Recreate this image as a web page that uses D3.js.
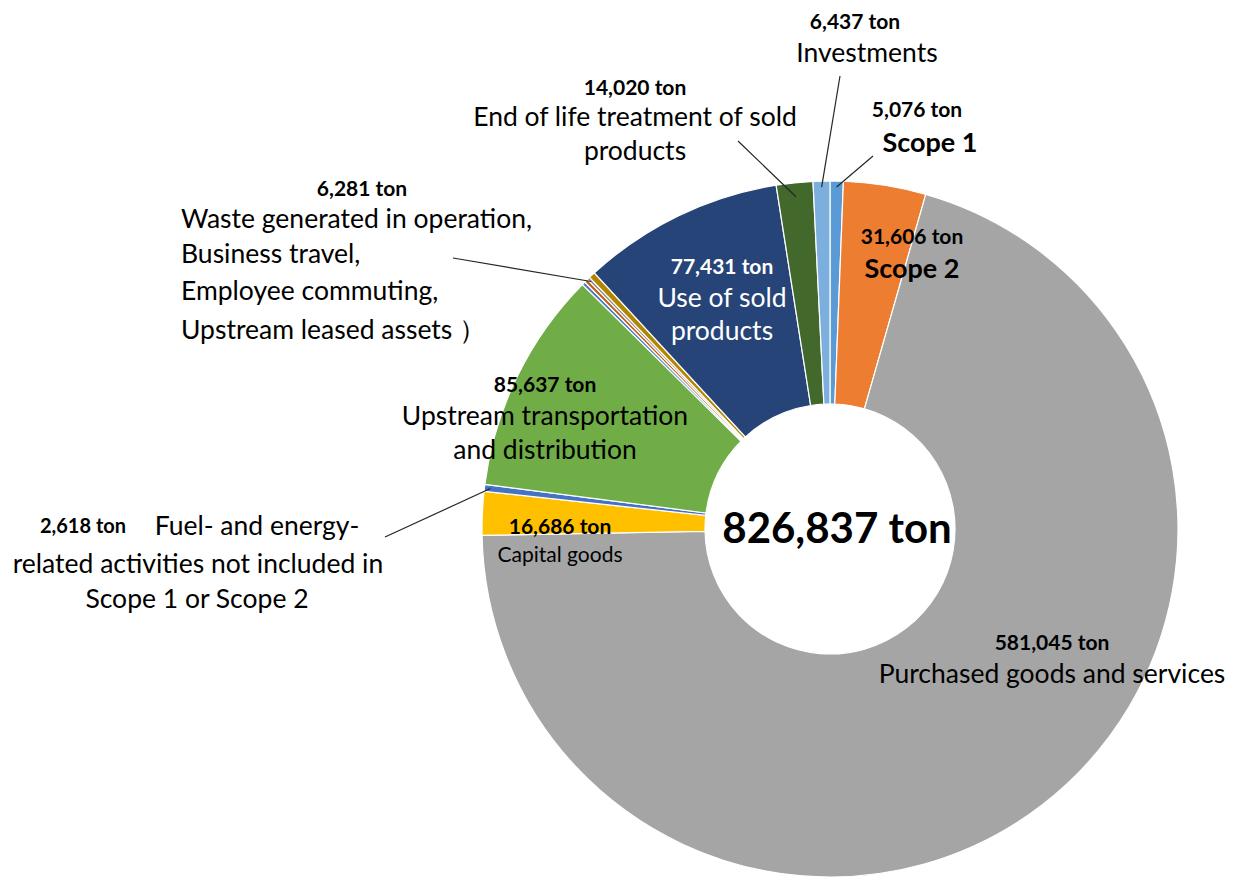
<!DOCTYPE html>
<html>
<head>
<meta charset="utf-8">
<script src="https://cdn.jsdelivr.net/npm/d3@7"></script>
<style>
  body { margin: 0; background: #fff; }
  svg { display: block; font-family: Lato, 'Open Sans', sans-serif; }
</style>
</head>
<body>
<svg id="canvas" width="1237" height="878"></svg>
<script>
// slices, clockwise from 12 o'clock
let sliceNames = ['Scope 1', 'Scope 2', 'Purchased goods and services', 'Capital goods',
  'Fuel- and energy-related activities', 'Upstream transportation and distribution',
  'Waste generated in operation', 'Business travel', 'Employee commuting', 'Upstream leased assets',
  'Use of sold products', 'End of life treatment of sold products', 'Investments']
let sliceValues = [5076, 31606, 581045, 16686, 2618, 85637, 1300, 1400, 1100, 2481, 77431, 14020, 6437]
let sliceColors = ['#5B9BD5', '#ED7D31', '#A5A5A5', '#FFC000', '#4472C4', '#70AD47',
  '#4A7CC4', '#C55A11', '#8C8C8C', '#B38600', '#264478', '#43682B', '#7CAFDD']

let totalLabel = '826,837 ton'

let canvas = d3.select('#canvas')
let cx = 830, cy = 529
let outerR = 348, innerR = 125

let pie = d3.pie().sort(null).value(d => d)
let arcs = pie(sliceValues)
let arc = d3.arc().innerRadius(innerR).outerRadius(outerR)

let g = canvas.append('g').attr('transform', `translate(${cx},${cy})`)

g.selectAll('path')
  .data(arcs)
  .enter()
  .append('path')
  .attr('d', arc)
  .attr('fill', (d, i) => sliceColors[i])
  .attr('stroke', '#fff')
  .attr('stroke-width', 1.2)

// point on a slice, for leader lines
let pointOn = (idxs, r) => {
  let a0 = arcs[idxs[0]].startAngle
  let a1 = arcs[idxs[idxs.length - 1]].endAngle
  let a = (a0 + a1) / 2
  return [cx + r * Math.sin(a), cy - r * Math.cos(a)]
}

// leader lines: slice indexes -> label end
let leaders = [
  { idx: [12], r: 342, to: [840, 76] },
  { idx: [0], r: 342, to: [873, 156] },
  { idx: [11], r: 334, to: [738, 141] },
  { idx: [6, 7, 8, 9], r: 344, to: [453, 258] },
  { idx: [4], r: 342, to: [385, 537] }
]
leaders.forEach(l => {
  let p = pointOn(l.idx, l.r)
  canvas.append('line')
    .attr('x1', l.to[0]).attr('y1', l.to[1])
    .attr('x2', p[0]).attr('y2', p[1])
    .attr('stroke', '#262626')
    .attr('stroke-width', 1.2)
})

// labels [text, x, y, size, bold, color, anchor]
let labels = [
  ['6,437 ton', 855, 20, 21, true],
  ['Investments', 867, 52, 26.5, false],
  ['14,020 ton', 635, 86, 21, true],
  ['End of life treatment of sold', 635, 116, 26.5, false],
  ['products', 635, 150, 26.5, false],
  ['5,076 ton', 917, 108, 21, true],
  ['Scope 1', 930, 141, 27, true],
  ['6,281 ton', 362, 187, 21, true],
  ['Waste generated in operation,', 181, 218, 26.5, false, '#000', 'start'],
  ['Business travel,', 181, 253, 26.5, false, '#000', 'start'],
  ['Employee commuting,', 181, 290, 26.5, false, '#000', 'start'],
  ['Upstream leased assets \uFF09', 181, 329, 26.5, false, '#000', 'start'],
  ['31,606 ton', 912, 235, 21, true],
  ['Scope 2', 912, 267, 27, true],
  ['77,431 ton', 722, 265, 21, true, '#fff'],
  ['Use of sold', 722, 297, 26.5, false, '#fff'],
  ['products', 722, 330, 26.5, false, '#fff'],
  ['85,637 ton', 545, 383, 21, true],
  ['Upstream transportation', 545, 415, 26.5, false],
  ['and distribution', 545, 449, 26.5, false],
  ['2,618 ton', 83, 525, 20, true],
  ['Fuel- and energy-', 257, 525, 26.5, false],
  ['related activities not included in', 198, 563, 26.5, false],
  ['Scope 1 or Scope 2', 197, 598, 26.5, false],
  ['16,686 ton', 560, 525, 21, true],
  ['Capital goods', 560, 553, 21, false],
  ['581,045 ton', 1052, 641, 21, true],
  ['Purchased goods and services', 1052, 673, 26.5, false],
  [totalLabel, 837, 527, 42, true]
]

canvas.selectAll('text.lbl')
  .data(labels)
  .enter()
  .append('text')
  .attr('class', 'lbl')
  .attr('x', d => d[1])
  .attr('y', d => d[2])
  .attr('font-size', d => d[3])
  .attr('font-weight', d => d[4] ? 'bold' : 'normal')
  .attr('fill', d => d[5] || '#000')
  .attr('text-anchor', d => d[6] || 'middle')
  .attr('dominant-baseline', 'central')
  .text(d => d[0])
</script>
</body>
</html>
